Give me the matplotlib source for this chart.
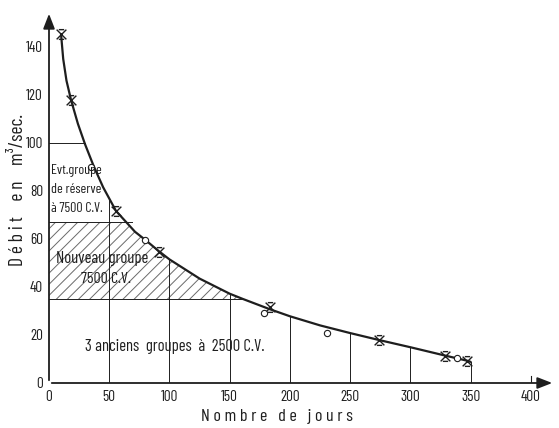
import numpy as np
import matplotlib
matplotlib.use("Agg")
import matplotlib.pyplot as plt
from matplotlib.path import Path
from matplotlib import font_manager

names = {f.name for f in font_manager.fontManager.ttflist}
prefs = ['Barlow Condensed', 'Roboto Condensed', 'Saira Condensed', 'PT Sans Narrow',
         'Archivo Narrow', 'Pathway Gothic One', 'Liberation Sans Narrow']
FONT = [p for p in prefs if p in names][:1] + ['DejaVu Sans']
plt.rcParams['font.family'] = FONT
plt.rcParams['hatch.linewidth'] = 0.7

# Duration curve (days, m3/s)
curve_days = [10, 11.8, 14.5, 18.3, 24, 29.9, 37.3, 45, 55.6, 71.4, 80, 91, 100, 125, 150, 161, 183, 200, 225, 250, 274, 300, 329, 347, 350]
curve_flow = [145.3, 135, 126, 117.9, 108, 99.5, 90.1, 81.5, 71.7, 63, 59.6, 55, 51.5, 43.5, 37.2, 35, 30.8, 27.8, 24, 20.8, 17.9, 14.9, 11.4, 9.3, 8.8]

star_days = [10, 18.3, 55.6, 91.3, 183.4, 273.9, 328.6, 347]
star_flow = [145.3, 117.9, 71.7, 54.7, 31.5, 17.9, 11.4, 9.3]
circ_days = [34.6, 79.7, 178.7, 230.4, 338.8]
circ_flow = [90, 59.6, 29.3, 21, 10.5]

# grid lines up to curve
vline_days = [50, 100, 150, 200, 250, 300, 350]
vline_top = [76.5, 51.5, 37.2, 27.8, 20.8, 14.9, 8.8]
hline_flow = [100, 67, 35]
hline_end = [29.9, 68.6, 161]

xticks = [0, 50, 100, 150, 200, 250, 300, 350, 400]
yticks = [0, 20, 40, 60, 80, 100, 120, 140]

INK = '#1e1e1e'

fig = plt.figure(figsize=(5.59, 4.28), dpi=100)
fig.patch.set_facecolor('white')
ax = fig.add_axes([49/559, 45/428, 506/559, 372/428])
ax.set_xlim(0, 420)
ax.set_ylim(0, 155)
for s in ax.spines.values():
    s.set_visible(False)
ax.set_xticks(xticks)
ax.set_yticks(yticks)
ax.tick_params(length=0, labelsize=11, colors=INK, pad=5)
ax.tick_params(axis='y', pad=4.3)

# hatched region between 35 and 67 under the curve
xh = np.linspace(0, hline_end[2], 200)
top = np.minimum(hline_flow[1], np.interp(xh, curve_days, curve_flow))
ax.fill_between(xh, hline_flow[2], top, facecolor='none', edgecolor='#6a6a6a', hatch='///', linewidth=0)

for d, t in zip(vline_days, vline_top):
    ax.plot([d, d], [0, t], color=INK, lw=0.7)
for f, e in zip(hline_flow, hline_end):
    ax.plot([0, e], [f, f], color=INK, lw=0.7)
ax.plot([400, 400], [0, 3], color=INK, lw=0.8)

ax.plot(curve_days, curve_flow, color=INK, lw=1.6, solid_capstyle='round', solid_joinstyle='round')

# custom "asterisk" marker: X with short horizontal caps
verts = [(-1, 1), (1, -1), (-1, -1), (1, 1), (-0.55, 1), (0.55, 1), (-0.55, -1), (0.55, -1)]
codes = [Path.MOVETO, Path.LINETO, Path.MOVETO, Path.LINETO, Path.MOVETO, Path.LINETO, Path.MOVETO, Path.LINETO]
star = Path(verts, codes)
ax.plot(star_days, star_flow, ls='none', marker=star, ms=7, mec=INK, mew=1.0, mfc='none')
ax.plot(circ_days, circ_flow, ls='none', marker='o', ms=4.5, mec=INK, mew=0.8, mfc='white')

# axes with arrows
ax.annotate('', xy=(420, 0), xytext=(0, 0), arrowprops=dict(arrowstyle='-|>,head_length=0.9,head_width=0.35', color=INK, lw=1.3), annotation_clip=False)
ax.annotate('', xy=(0, 155), xytext=(0, 0), arrowprops=dict(arrowstyle='-|>,head_length=0.9,head_width=0.35', color=INK, lw=1.3), annotation_clip=False)

ax.text(1.8, 80.5, 'Evt.groupe\nde réserve\nà 7500 C.V.', fontsize=10, color=INK, va='center', ha='left', linespacing=1.6)
ax.text(44, 52, 'Nouveau groupe', fontsize=12, color=INK, va='center', ha='center')
ax.text(47, 43.3, '7500 C.V.', fontsize=11.5, color=INK, va='center', ha='center')
ax.text(104, 15.4, '3 anciens  groupes  à  2500 C.V.', fontsize=12, color=INK, va='center', ha='center')

fig.text(277/559, 1 - 416/428, 'N o m b r e   d e   j o u r s', fontsize=13, color=INK, ha='center', va='center')
fig.text(18/559, 1 - 190/428, 'D é b i t    e n    m³/sec.', fontsize=14, color=INK, ha='center', va='center', rotation=90)

fig.savefig('out.png', dpi=100, facecolor='white')
